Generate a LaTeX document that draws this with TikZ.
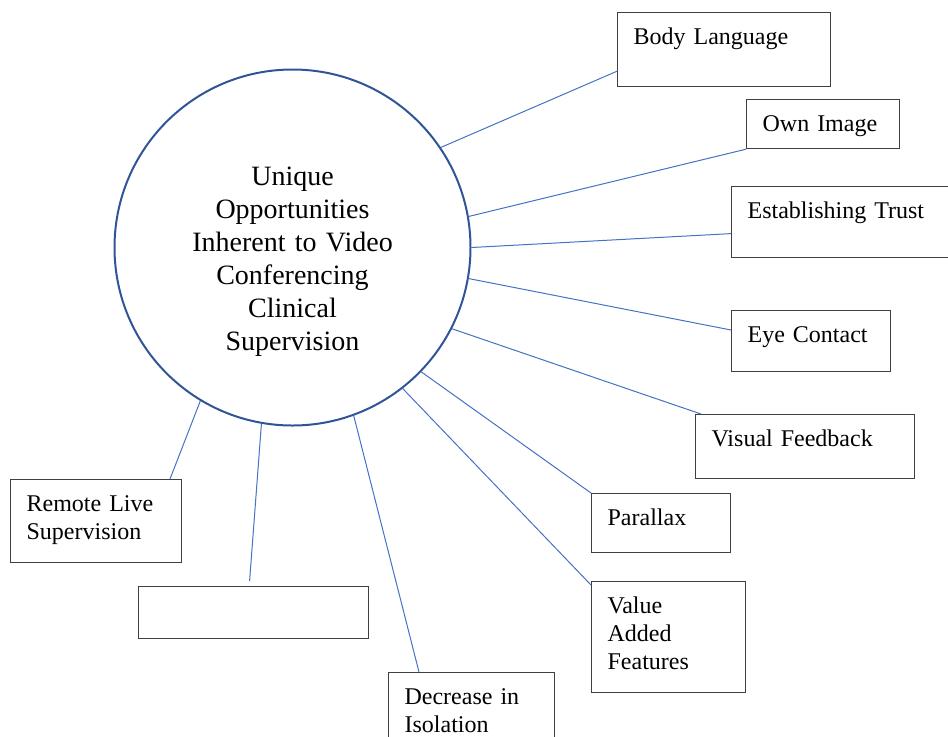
\documentclass[tikz,border=0pt]{standalone}
\usepackage{fontspec}
\setmainfont{Liberation Serif}
\usetikzlibrary{calc}
\definecolor{hubblue}{HTML}{2F5597}
\definecolor{spokeblue}{HTML}{4472C4}
\tikzset{
  hub/.style={circle,draw=hubblue,line width=1pt,minimum size=178pt,inner sep=0pt,text width=110pt,align=center,text height=23pt,font=\fontsize{14}{16.5}\selectfont},
  optbox/.style={rectangle,draw=black!75,line width=0.6pt,anchor=north west,align=left,inner xsep=8pt,inner ysep=0pt,text height=16pt,font=\fontsize{12}{14}\selectfont},
  spoke/.style={draw=spokeblue,line width=0.5pt}
}

\begin{document}
\begin{tikzpicture}[x=0.5pt,y=-0.5pt]
  \useasboundingbox (0,0) rectangle (948,736);

  % central circle
  \node[hub] (hub) at (292.5,247.5) {Unique\\Opportunities\\Inherent to Video\\Conferencing\\Clinical\\Supervision};

  % boxes round it
  \node[optbox,text width=90.5pt,text depth=21pt] (body) at (617,12) {Body Language};
  \node[optbox,text width=60.5pt,text depth=8.5pt] (own) at (746,99) {Own Image};
  \node[optbox,text width=99pt,text depth=19.5pt] (trust) at (731,186) {Establishing Trust};
  \node[optbox,text width=63.5pt,text depth=14.5pt] (eye) at (731,310) {Eye Contact};
  \node[optbox,text width=93.5pt,text depth=16pt] (visual) at (695,414) {Visual Feedback};
  \node[optbox,text width=53.5pt,text depth=13.5pt] (parallax) at (591,493) {Parallax};
  \node[optbox,text width=61pt,text depth=39.5pt] (value) at (591,581) {Value\\Added\\Features};
  \node[optbox,text width=67pt,text depth=24pt] (decrease) at (388,672) {Decrease in\\Isolation};
  \node[optbox,text width=99pt,text depth=10pt] (empty) at (138,586) {};
  \node[optbox,text width=69.5pt,text depth=25.5pt] (remote) at (10,479) {Remote Live\\Supervision};

  % spokes
  \draw[spoke] (hub.34.3) -- ([yshift=8pt]body.south west);
  \draw[spoke] (hub.10.4) -- (own.south west);
  \draw[spoke] (hub.0.8) -- ([yshift=-5.75pt]trust.west);
  \draw[spoke] (hub.-10) -- ([yshift=-10pt]eye.north west);
  \draw[spoke] (hub.-27.5) -- ([xshift=3pt]visual.north west);
  \draw[spoke] (hub.-44.3) -- (parallax.north west);
  \draw[spoke] (hub.-52.8) -- ([yshift=-2pt]value.north west);
  \draw[spoke] (hub.-70) -- ([xshift=15.5pt]decrease.north west);
  \draw[spoke] (hub.-100) -- ([shift={(-2pt,2.5pt)}]empty.north);
  \draw[spoke] (hub.-121.8) -- ([xshift=80pt]remote.north west);
\end{tikzpicture}
\end{document}
